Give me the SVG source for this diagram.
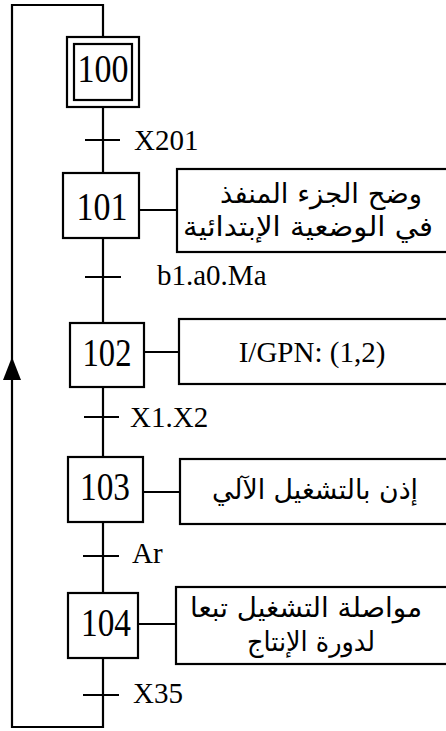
<svg xmlns="http://www.w3.org/2000/svg" width="446" height="731" viewBox="0 0 446 731">
<style>
.ln{stroke:#000;stroke-width:2.2;fill:none}
.bx{stroke:#000;stroke-width:2.2;fill:#fff}
.num{font-family:"Liberation Serif","Times New Roman",serif;font-size:39px;text-anchor:middle;fill:#000}
.lbl{font-family:"Liberation Serif","Times New Roman",serif;font-size:29px;fill:#000}
.act{font-family:"DejaVu Sans",sans-serif;font-size:27px;text-anchor:middle;fill:#000}
</style>
<g id="connectors">
<path class="ln" d="M103 37V5H12V727H103V658"/>
<path d="M12 380L3 380L12 357L21 380Z" fill="#000"/>
<path class="ln" d="M103 107V173M85 140H120"/>
<path class="ln" d="M103 238V323M85 277H121"/>
<path class="ln" d="M103 387V457M84 417H119"/>
<path class="ln" d="M103 522V593M83 556H119"/>
<path class="ln" d="M83 695H119"/>
<path class="ln" d="M139 210H177M144 352H179M143 492H180M138 624H176"/>
</g>
<g id="t1"><text class="lbl" x="134" y="150">X201</text></g>
<g id="t2"><text class="lbl" x="157" y="285">b1.a0.Ma</text></g>
<g id="t3"><text class="lbl" x="130" y="427">X1.X2</text></g>
<g id="t4"><text class="lbl" x="132" y="563">Ar</text></g>
<g id="t5"><text class="lbl" x="133" y="703">X35</text></g>
<g id="s100">
<rect class="bx" x="67" y="37" width="72" height="70"/>
<rect class="bx" x="74" y="44" width="58" height="56"/>
<text class="num" x="103" y="82" textLength="51" lengthAdjust="spacingAndGlyphs">100</text>
</g>
<g id="s101">
<rect class="bx" x="63" y="173" width="76" height="65"/>
<text class="num" x="102" y="220" textLength="51" lengthAdjust="spacingAndGlyphs">101</text>
</g>
<g id="a101">
<rect class="bx" x="177" y="169" width="272" height="83"/>
<text class="act" direction="rtl" x="321" y="203" textLength="202" lengthAdjust="spacingAndGlyphs">وضح الجزء المنفذ</text>
<text class="act" direction="rtl" x="308" y="236" textLength="250" lengthAdjust="spacingAndGlyphs">في الوضعية الإبتدائية</text>
</g>
<g id="s102">
<rect class="bx" x="70" y="323" width="74" height="64"/>
<text class="num" x="107" y="366" textLength="49" lengthAdjust="spacingAndGlyphs">102</text>
</g>
<g id="a102">
<rect class="bx" x="179" y="319" width="270" height="65"/>
<text class="lbl" x="312" y="362" text-anchor="middle">I/GPN: (1,2)</text>
</g>
<g id="s103">
<rect class="bx" x="68" y="457" width="75" height="65"/>
<text class="num" x="105" y="500" textLength="50" lengthAdjust="spacingAndGlyphs">103</text>
</g>
<g id="a103">
<rect class="bx" x="180" y="459" width="269" height="65"/>
<text class="act" direction="rtl" x="315" y="499" textLength="206" lengthAdjust="spacingAndGlyphs">إذن بالتشغيل الآلي</text>
</g>
<g id="s104">
<rect class="bx" x="68" y="593" width="70" height="65"/>
<text class="num" x="106" y="636" textLength="50" lengthAdjust="spacingAndGlyphs">104</text>
</g>
<g id="a104">
<rect class="bx" x="176" y="587" width="273" height="77"/>
<text class="act" direction="rtl" x="306" y="617" textLength="232" lengthAdjust="spacingAndGlyphs">مواصلة التشغيل تبعا</text>
<text class="act" direction="rtl" x="311" y="651" textLength="128" lengthAdjust="spacingAndGlyphs">لدورة الإنتاج</text>
</g>
</svg>
